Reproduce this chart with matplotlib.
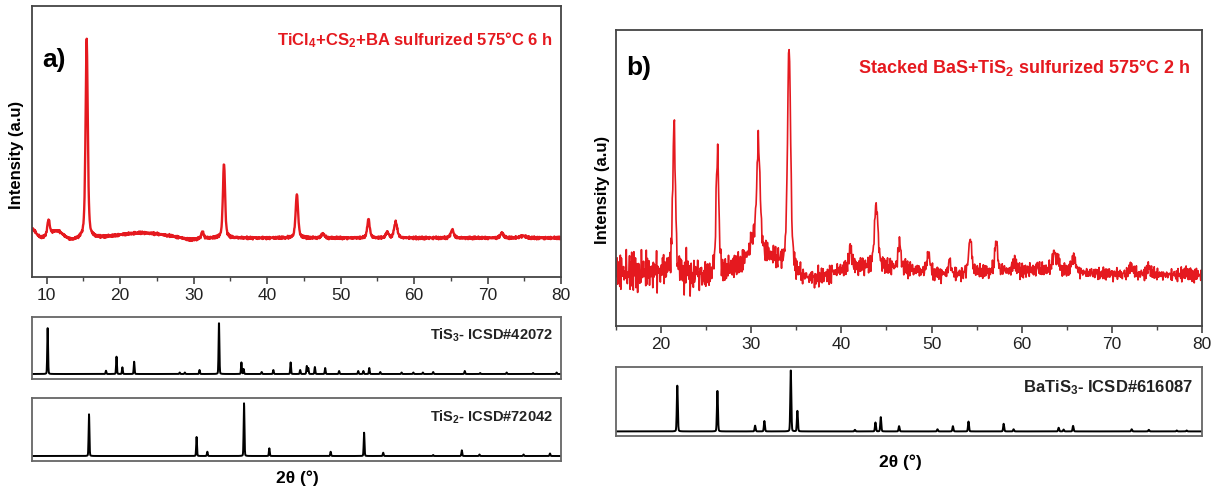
import numpy as np
import matplotlib.pyplot as plt
from matplotlib.ticker import MultipleLocator

plt.rcParams['font.family'] = ['Liberation Sans', 'DejaVu Sans']
plt.rcParams['mathtext.fontset'] = 'custom'
plt.rcParams['mathtext.rm'] = 'Liberation Sans:bold'
plt.rcParams['mathtext.bf'] = 'Liberation Sans:bold'
plt.rcParams['mathtext.it'] = 'Liberation Sans:bold'

RED = '#e5191f'

# a) TiCl4+CS2+BA 硫化样品 (峰位, 峰高, 半高宽)
a_base = 39
a_pos = [10.25, 15.44, 31.2, 34.13, 44.05, 47.6, 53.8, 56.35, 57.5, 65.2, 71.95, 74.8]
a_hgt = [16, 200, 7, 75, 44, 4, 19, 6, 16, 8, 5, 2]
a_fwhm = [0.4, 0.35, 0.35, 0.35, 0.4, 0.5, 0.4, 0.4, 0.5, 0.5, 0.5, 1.0]
# 背景起伏 (位置, 高度, sigma)
a_bg_pos = [8.0, 11.4, 13.3, 23.0, 29.6]
a_bg_hgt = [9, 7, -2, 5, -2]
a_bg_sig = [0.5, 0.8, 0.8, 3.0, 1.0]
a_noise = 1.6

# b) 叠层 BaS+TiS2 硫化样品
b_base = 51
b_pos = [20.2, 21.44, 22.85, 24.0, 26.25, 30.2, 30.8, 34.2, 41.0, 43.86, 46.45, 49.66,
         52.0, 54.29, 57.17, 59.17, 61.76, 63.6, 64.1, 65.76, 72.16, 74.08, 78.15]
b_hgt = [10, 150, 13, 11, 124, 15, 110, 228, 20, 64, 25, 20,
         14, 35, 32, 10, 4, 18, 9, 16, 8, 7, 4]
b_fwhm = [0.15, 0.35, 0.15, 0.15, 0.35, 0.7, 0.45, 0.4, 0.4, 0.45, 0.4, 0.4,
          0.4, 0.4, 0.35, 0.4, 0.4, 0.5, 0.4, 0.5, 0.5, 0.5, 0.4]
b_bg_pos = [17.5, 23.8, 31.0, 36.8, 43.5, 51.5, 61.0]
b_bg_hgt = [3, -3, 20, -6, 8, -2, 4]
b_bg_sig = [3.0, 1.5, 2.0, 1.5, 4.0, 1.5, 5.0]
# 每 5 度一段的噪声幅度 (15-80)
b_noise = [24, 21, 15, 13, 12, 10, 9.5, 9.5, 9, 9, 8, 8, 8]

# 标准卡片
tis3_pos = [10.13, 18.07, 19.5, 20.3, 21.9, 28.1, 28.8, 30.8, 33.45, 36.5, 36.8, 39.26,
            40.85, 43.2, 44.5, 45.4, 45.6, 46.5, 47.9, 49.8, 52.4, 53.1, 53.9, 55.4,
            58.3, 59.9, 61.2, 62.6, 66.9, 69.0, 72.6, 76.2, 79.4]
tis3_hgt = [46.6, 3.3, 17.3, 6.7, 12.3, 1.5, 1.5, 4, 51.6, 11.6, 5, 2,
            4, 11.6, 4, 8, 6, 7, 6, 3, 3, 3, 6, 2,
            1.5, 1.5, 1.5, 2, 3, 1, 1.5, 1, 1.5]
tis2_pos = [15.76, 30.4, 31.86, 36.86, 40.3, 48.65, 53.2, 55.8, 62.6, 66.5, 68.9, 74.9, 78.5]
tis2_hgt = [41.7, 19, 4.3, 52.7, 7.7, 4.3, 23.3, 3.3, 1, 5.7, 1.5, 1.5, 2.5]
batis3_pos = [21.8, 26.25, 30.43, 31.46, 34.39, 35.12, 41.5, 43.78, 44.37, 46.4, 50.66,
              52.37, 54.1, 58.0, 59.1, 64.1, 64.65, 65.7, 72.2, 74.1, 77.2, 78.3]
batis3_hgt = [49.7, 44.7, 6.3, 11.3, 67.3, 22.3, 1.7, 9.7, 15.7, 5.7, 2.3,
              5.7, 10.7, 8.3, 2.3, 4, 2, 6, 2.3, 1.7, 1, 1]

jit_a = [0.3, -0.8, 0.9, -0.2, -1.0, 0.6, 0.1, -0.5, 1.0, -0.9, 0.4, 0.7, -0.6, -0.1, 0.8,
         -1.0, 0.2, 0.5, -0.7, 0.9, -0.3, -0.8, 0.6, 0.0, -0.4, 1.0, -0.6, 0.3, -0.9, 0.7,
         0.2, -0.2, -1.0, 0.8, 0.4, -0.5, 0.9, -0.7, 0.1, 0.6, -0.9, 0.3, -0.1, 0.7, -0.8,
         0.5, -0.4, 1.0, -0.3, 0.2, -0.6, 0.8, -1.0, 0.4, 0.0, -0.7, 0.9, -0.2, 0.6, -0.5, 0.3]
jit_b = [-0.5, 0.8, 0.2, -0.9, 0.6, -0.1, 1.0, -0.7, 0.3, -0.4, 0.9, -1.0, 0.5, 0.1,
         -0.6, 0.7, -0.2, -0.8, 0.4, 1.0, -0.3, 0.0, -0.9]


def peaks(x, pos, hgt, fwhm, eta=0.5):
    y = np.zeros_like(x)
    for p, h, w in zip(pos, hgt, fwhm):
        d = (x - p) / w
        y += h * (eta / (1 + 4 * d ** 2) + (1 - eta) * np.exp(-4 * np.log(2) * d ** 2))
    return y


def humps(x, pos, hgt, sig):
    y = np.zeros_like(x)
    for p, h, s in zip(pos, hgt, sig):
        y += h * np.exp(-0.5 * ((x - p) / s) ** 2)
    return y


def jitter(n):
    return 0.6 * np.resize(jit_a, n) + 0.4 * np.resize(jit_b, n)


def stick(x, pos, hgt):
    return peaks(x, pos, hgt, [0.13] * len(pos), eta=0.15)


def to_fig(l, t, r, b):
    return [l / 1215, 1 - b / 486, (r - l) / 1215, (b - t) / 486]


fig = plt.figure(figsize=(12.15, 4.86), dpi=100)

xa = np.arange(8, 80.001, 0.05)
ya = a_base + humps(xa, a_bg_pos, a_bg_hgt, a_bg_sig) + peaks(xa, a_pos, a_hgt, a_fwhm) \
    + a_noise * jitter(len(xa))

xb = np.arange(15, 80.001, 0.06)
amp = np.array(b_noise)[np.clip(((xb - 15) // 5).astype(int), 0, len(b_noise) - 1)]
yb = b_base + humps(xb, b_bg_pos, b_bg_hgt, b_bg_sig) + peaks(xb, b_pos, b_hgt, b_fwhm) \
    + amp * jitter(len(xb))

xs = np.arange(8, 80.001, 0.02)


def main_axes(ax, lo, hi):
    ax.set_xlim(lo, hi)
    ax.set_yticks([])
    ax.xaxis.set_major_locator(MultipleLocator(10))
    ax.xaxis.set_minor_locator(MultipleLocator(5))
    ax.tick_params(axis='x', which='major', direction='out', length=5, width=1.2,
                   color='#444444', labelsize=12.5, labelcolor='#222222', pad=3)
    ax.tick_params(axis='x', which='minor', direction='out', length=3, width=1.0, color='#444444')
    for s in ax.spines.values():
        s.set_color('#444444')
        s.set_linewidth(1.3)


def ref_axes(ax, lo, hi):
    ax.set_xlim(lo, hi)
    ax.set_xticks([])
    ax.set_yticks([])
    for s in ax.spines.values():
        s.set_color('#666666')
        s.set_linewidth(1.3)


# 左图
ax1 = fig.add_axes(to_fig(32, 6, 561, 277))
ax1.plot(xa, ya, color=RED, lw=1.7)
ax1.set_ylim(0, 271)
main_axes(ax1, 8, 80)
ax1.text(0.02, 0.8, 'a)', transform=ax1.transAxes, fontsize=19, fontweight='bold', va='center')
ax1.text(0.985, 0.875, r'TiCl$_\mathbf{4}$+CS$_\mathbf{2}$+BA sulfurized 575°C 6 h',
         transform=ax1.transAxes, color=RED, fontsize=12, fontweight='bold', ha='right', va='center')
fig.text(17 / 1215, 1 - 155 / 486, 'Intensity (a.u)', rotation=90, fontsize=12,
         fontweight='bold', ha='center', va='center')

ax2 = fig.add_axes(to_fig(32, 317, 561, 379))
ax2.plot(xs, stick(xs, tis3_pos, tis3_hgt), color='black', lw=1.4)
ax2.set_ylim(-5, 57)
ref_axes(ax2, 8, 80)
ax2.text(0.985, 0.7, r'TiS$_\mathbf{3}$- ICSD#42072', transform=ax2.transAxes,
         fontsize=10.5, fontweight='bold', ha='right', va='center', color='#222222')

ax3 = fig.add_axes(to_fig(32, 398, 561, 461))
ax3.plot(xs, stick(xs, tis2_pos, tis2_hgt), color='black', lw=1.4)
ax3.set_ylim(-5, 58)
ref_axes(ax3, 8, 80)
ax3.text(0.985, 0.7, r'TiS$_\mathbf{2}$- ICSD#72042', transform=ax3.transAxes,
         fontsize=10.5, fontweight='bold', ha='right', va='center', color='#222222')
fig.text(297 / 1215, 1 - 478 / 486, '2θ (°)', fontsize=12.5, fontweight='bold',
         ha='center', va='center')

# 右图
ax4 = fig.add_axes(to_fig(616, 30, 1202, 326))
ax4.plot(xb, yb, color=RED, lw=1.2)
ax4.set_ylim(0, 296)
main_axes(ax4, 15, 80)
ax4.text(0.017, 0.87, 'b)', transform=ax4.transAxes, fontsize=19, fontweight='bold', va='center')
ax4.text(0.98, 0.87, r'Stacked BaS+TiS$_\mathbf{2}$ sulfurized 575°C 2 h',
         transform=ax4.transAxes, color=RED, fontsize=13, fontweight='bold', ha='right', va='center')
fig.text(603 / 1215, 1 - 190 / 486, 'Intensity (a.u)', rotation=90, fontsize=12,
         fontweight='bold', ha='center', va='center')

ax5 = fig.add_axes(to_fig(616, 367, 1202, 436))
ax5.plot(xs, stick(xs, batis3_pos, batis3_hgt), color='black', lw=1.4)
ax5.set_ylim(-5, 70)
ref_axes(ax5, 15, 80)
ax5.text(0.985, 0.7, r'BaTiS$_\mathbf{3}$- ICSD#616087', transform=ax5.transAxes,
         fontsize=12, fontweight='bold', ha='right', va='center', color='#222222')
fig.text(900 / 1215, 1 - 462 / 486, '2θ (°)', fontsize=12.5, fontweight='bold',
         ha='center', va='center')

fig.savefig('out.png', dpi=100)
